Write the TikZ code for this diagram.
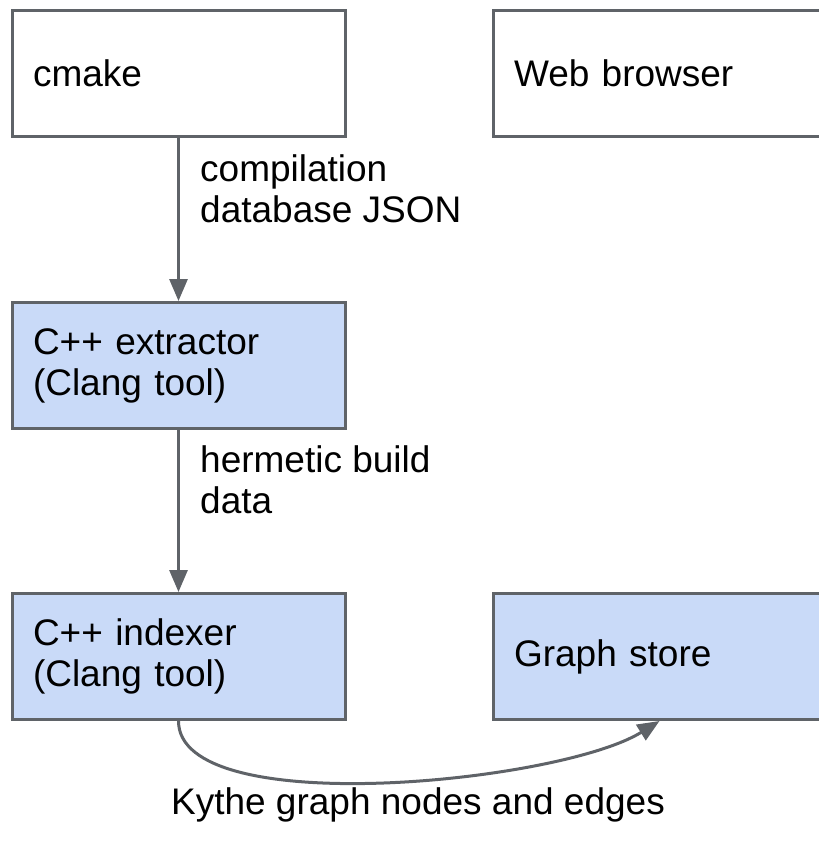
\documentclass[tikz,border=0pt]{standalone}
\usepackage{fontspec}
\setmainfont{Liberation Sans}
\usetikzlibrary{arrows.meta}
\definecolor{linegray}{HTML}{5F6368}
\definecolor{boxblue}{HTML}{C9DAF8}
\begin{document}
\begin{tikzpicture}
  [x=1pt,y=-1pt,>={Triangle[length=22pt,width=18pt]},
   every node/.style={font=\fontsize{37}{41}\selectfont},
   box/.style={draw=linegray,line width=3pt,minimum width=333pt,minimum height=126pt,
     text width=291pt,align=left,inner xsep=21pt},
   blue/.style={box,fill=boxblue},
   flow/.style={->,draw=linegray,line width=3pt}]

  \useasboundingbox (0,0) rectangle (819,841);
  \clip (0,0) rectangle (819,841);

  \node[box] (cmake) at (178.5,73) {cmake};
  \node[box] (browser) at (659.5,73) {Web browser};
  \node[blue] (extractor) at (178.5,365.5) {C++ extractor\\(Clang tool)};
  \node[blue] (indexer) at (178.5,656.5) {C++ indexer\\(Clang tool)};
  \node[blue] (store) at (659.5,656.5) {Graph store};

\foreach \from/\to in {cmake/extractor,extractor/indexer}
    \draw[flow] (\from) -- (\to);

  \draw[flow] (indexer.south)
    .. controls +(0,100) and +(-100,62) .. (store.south);

  \node[align=left,inner sep=0pt,anchor=west] (db) at (200,189) {compilation\\database JSON};
  \node[align=left,inner sep=0pt,anchor=west] (hb) at (200,480) {hermetic build\\data};
  \node[anchor=base,inner sep=0pt] (kythe) at (418,814) {Kythe graph nodes and edges};

\end{tikzpicture}
\end{document}
